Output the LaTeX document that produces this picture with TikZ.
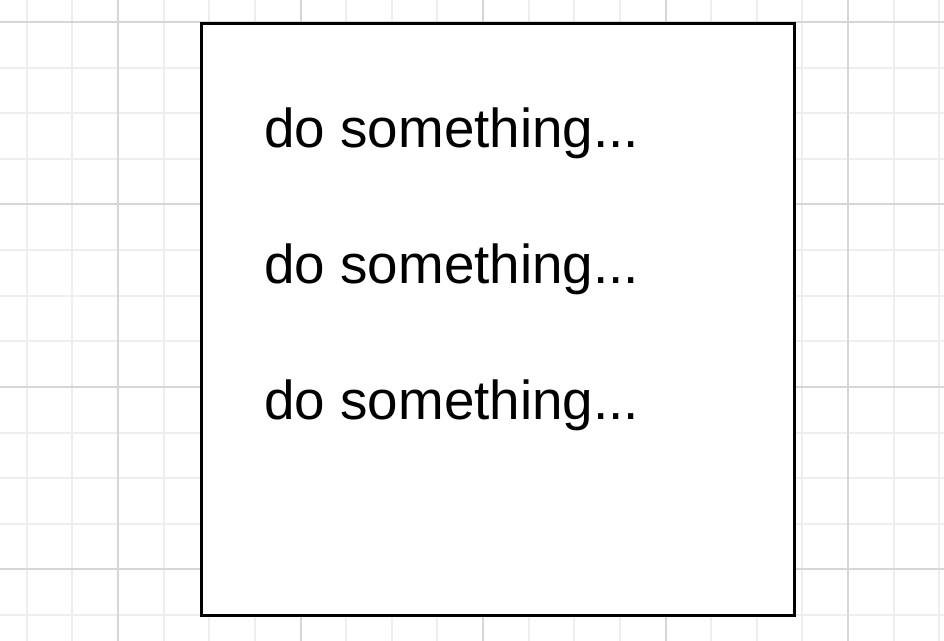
\documentclass[tikz,border=0pt]{standalone}
\usepackage{fontspec}
\setmainfont{Liberation Sans}
\usetikzlibrary{positioning}
\definecolor{gridminor}{RGB}{238,238,238}
\definecolor{gridmajor}{RGB}{214,214,214}

\begin{document}
\begin{tikzpicture}[x=0.5pt,y=-0.5pt,
	minorline/.style={gridminor, line width=1pt},
	majorline/.style={gridmajor, line width=1pt},
	block/.style={draw=black, fill=white, line width=1.6pt, minimum width=296.5pt, minimum height=296pt, inner sep=0pt},
	task/.style={anchor=base west, inner sep=0pt, font=\fontsize{27.4pt}{32pt}\selectfont}]
				\useasboundingbox (0,0) rectangle (944,641);

				% background grid
				\foreach \k in {-2,...,18}
					\draw[minorline] (118+\k*45.625,0) -- (118+\k*45.625,641);
				\foreach \k in {0,...,13}
					\draw[minorline] (0,22+\k*45.625) -- (944,22+\k*45.625);
				\foreach \k in {0,4,8,12,16}
					\draw[majorline] (118+\k*45.625,0) -- (118+\k*45.625,641);
				\foreach \k in {0,4,8,12}
					\draw[majorline] (0,22+\k*45.625) -- (944,22+\k*45.625);

				\node[block] (box) at (498,319.5) {};

				\node[task] (task1) at (264,148) {do something...};
				\node[task] (task2) at (264,284) {do something...};
				\node[task] (task3) at (264,420) {do something...};
\end{tikzpicture}
\end{document}
